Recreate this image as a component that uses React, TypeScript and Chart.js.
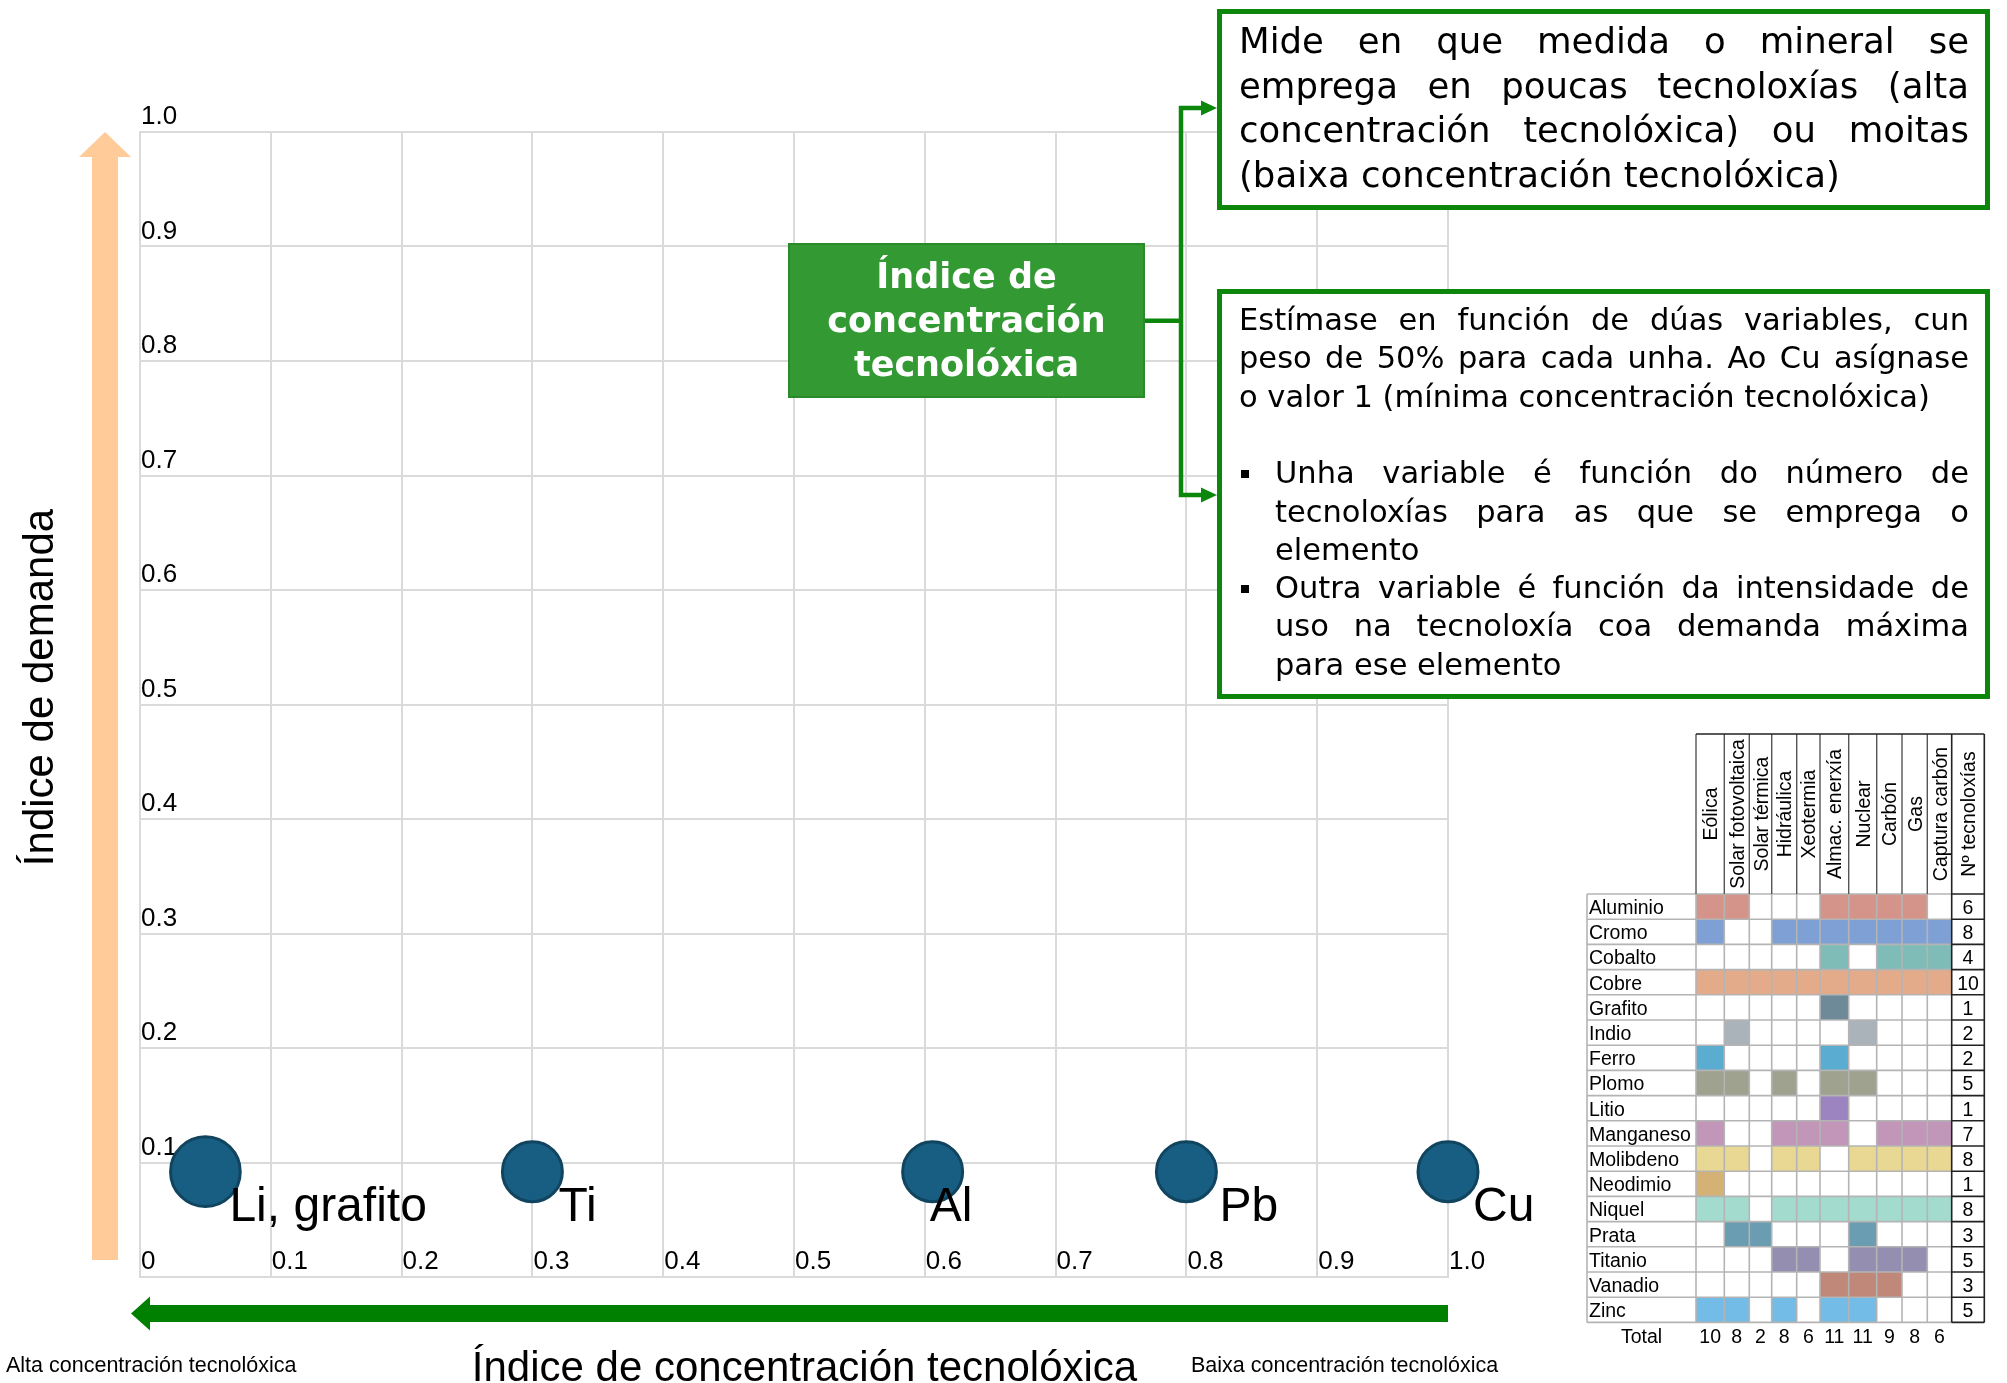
import React, { useEffect, useRef } from 'react';
import { Chart, registerables } from 'chart.js';

Chart.register(...registerables);

// ---- Bubble chart data ----
const ELEMENT_LABELS = ['Li, grafito', 'Ti', 'Al', 'Pb', 'Cu'];
const CONCENTRATION_INDEX = [0.05, 0.3, 0.606, 0.8, 1.0];
const DEMAND_INDEX = [0.092, 0.092, 0.092, 0.092, 0.092];
const BUBBLE_WEIGHT = [1.35, 1, 1, 1, 1];

const X_TICK_LABELS = ['0', '0.1', '0.2', '0.3', '0.4', '0.5', '0.6', '0.7', '0.8', '0.9', '1.0'];
const Y_TICK_LABELS = ['', '0.1', '0.2', '0.3', '0.4', '0.5', '0.6', '0.7', '0.8', '0.9', '1.0'];

// ---- Technology / mineral table data ----
const TECHNOLOGIES = [
  'Eólica', 'Solar fotovoltaica', 'Solar térmica', 'Hidráulica', 'Xeotermia',
  'Almac. enerxía', 'Nuclear', 'Carbón', 'Gas', 'Captura carbón',
];
const COUNT_HEADER = 'Nº tecnoloxías';
const MINERALS = [
  'Aluminio', 'Cromo', 'Cobalto', 'Cobre', 'Grafito', 'Indio', 'Ferro', 'Plomo', 'Litio',
  'Manganeso', 'Molibdeno', 'Neodimio', 'Niquel', 'Prata', 'Titanio', 'Vanadio', 'Zinc',
];
// one flag per technology column, in TECHNOLOGIES order
const USAGE = [
  '1100011110', '1001111111', '0000010111', '1111111111', '0000010000', '0100001000',
  '1000010000', '1101011000', '0000010000', '1001110111', '1101101111', '1000000000',
  '1101111111', '0110001000', '0001101110', '0000011100', '1101011000',
];
const TECH_COUNT = [6, 8, 4, 10, 1, 2, 2, 5, 1, 7, 8, 1, 8, 3, 5, 3, 5];
const TECH_TOTALS = [10, 8, 2, 8, 6, 11, 11, 9, 8, 6];

// ---- Styles ----
const MINERAL_COLORS = [
  '#D5948A', '#7FA0D4', '#80BCB7', '#E3AB8A', '#6E8A99', '#AAB2BA', '#5AADD0', '#9EA28F', '#9C84C0',
  '#C196B9', '#E8D893', '#D4B276', '#A3DBCE', '#6A9CB2', '#948FB0', '#C08878', '#73BCE8',
];
const FONT_ARIAL = '"Liberation Sans", Arial, sans-serif';
const FONT_BOX = '"DejaVu Sans", sans-serif';
const GRID = '#DADADA';
const GREEN_LINE = '#0C870C';
const BUBBLE_FILL = '#185E82';
const BUBBLE_EDGE = '#10445F';
const BASE_RADIUS = 30;
const LABEL_SHIFT = [24, 26, -3, 33, 25];
const LABEL_DROP = 49;

// table geometry
const COL_EDGES = [1587, 1696, 1724.3, 1749.3, 1771.7, 1796.7, 1820, 1848.7, 1876.7, 1902, 1927.3, 1951.7, 1984.3];
const HEAD_TOP = 734;
const ROW_TOP = 894;
const ROW_H = 25.2;
const TABLE_FONT = 19.5;

const elementLabels = {
  id: 'elementLabels',
  afterDatasetsDraw(chart: any) {
    const meta = chart.getDatasetMeta(0);
    const ctx = chart.ctx;
    ctx.save();
    ctx.font = `48px ${FONT_ARIAL}`;
    ctx.fillStyle = '#000';
    ctx.textBaseline = 'alphabetic';
    ctx.textAlign = 'left';
    meta.data.forEach((pt: any, i: number) => {
      ctx.fillText(ELEMENT_LABELS[i], pt.x + LABEL_SHIFT[i], pt.y + LABEL_DROP);
    });
    ctx.restore();
  },
};

type BoxLine = { text: string; justify: boolean; bullet?: boolean };

const BOX1_LINES: BoxLine[] = [
  { text: 'Mide en que medida o mineral se', justify: true },
  { text: 'emprega en poucas tecnoloxías (alta', justify: true },
  { text: 'concentración tecnolóxica) ou moitas', justify: true },
  { text: '(baixa concentración tecnolóxica)', justify: false },
];

const BOX2_LINES: (BoxLine | null)[] = [
  { text: 'Estímase en función de dúas variables, cun', justify: true },
  { text: 'peso de 50% para cada unha. Ao Cu asígnase', justify: true },
  { text: 'o valor 1 (mínima concentración tecnolóxica)', justify: false },
  null,
  { text: 'Unha variable é función do número de', justify: true, bullet: true },
  { text: 'tecnoloxías para as que se emprega o', justify: true },
  { text: 'elemento', justify: false },
  { text: 'Outra variable é función da intensidade de', justify: true, bullet: true },
  { text: 'uso na tecnoloxía coa demanda máxima', justify: true },
  { text: 'para ese elemento', justify: false },
];

const TITLE_LINES = ['Índice de', 'concentración', 'tecnolóxica'];

function lineStyle(left: number, top: number, width: number, size: number, lh: number, justify: boolean): React.CSSProperties {
  return {
    position: 'absolute',
    left,
    top,
    width,
    height: lh,
    fontFamily: FONT_BOX,
    fontSize: size,
    lineHeight: `${lh}px`,
    textAlign: justify ? 'justify' : 'left',
    textAlignLast: justify ? 'justify' : 'left',
    color: '#000',
  } as React.CSSProperties;
}

function Table() {
  const els: React.ReactNode[] = [];
  const rowBottom = ROW_TOP + MINERALS.length * ROW_H;
  const bodyStroke = '#B4B4B4';
  const headStroke = '#555555';
  const dark = '#222222';

  MINERALS.forEach((m, r) => {
    const y = ROW_TOP + r * ROW_H;
    for (let c = 0; c < TECHNOLOGIES.length; c++) {
      if (USAGE[r][c] === '1') {
        els.push(
          <rect key={`f${r}-${c}`} x={COL_EDGES[c + 1]} y={y}
            width={COL_EDGES[c + 2] - COL_EDGES[c + 1]} height={ROW_H} fill={MINERAL_COLORS[r]} />
        );
      }
    }
  });

  for (let i = 0; i <= MINERALS.length; i++) {
    const y = ROW_TOP + i * ROW_H;
    els.push(<line key={`h${i}`} x1={COL_EDGES[0]} x2={COL_EDGES[11]} y1={y} y2={y} stroke={bodyStroke} strokeWidth={1.6} />);
    els.push(<line key={`hd${i}`} x1={COL_EDGES[11]} x2={COL_EDGES[12]} y1={y} y2={y} stroke={dark} strokeWidth={1.6} />);
  }
  for (let c = 0; c < 11; c++) {
    els.push(<line key={`v${c}`} x1={COL_EDGES[c]} x2={COL_EDGES[c]} y1={ROW_TOP} y2={rowBottom} stroke={bodyStroke} strokeWidth={1.6} />);
  }
  for (let c = 11; c < 13; c++) {
    els.push(<line key={`vd${c}`} x1={COL_EDGES[c]} x2={COL_EDGES[c]} y1={HEAD_TOP} y2={rowBottom} stroke={dark} strokeWidth={1.6} />);
  }
  for (let c = 1; c < 11; c++) {
    els.push(<line key={`vh${c}`} x1={COL_EDGES[c]} x2={COL_EDGES[c]} y1={HEAD_TOP} y2={ROW_TOP} stroke={headStroke} strokeWidth={1.4} />);
  }
  els.push(<line key="top" x1={COL_EDGES[1]} x2={COL_EDGES[12]} y1={HEAD_TOP} y2={HEAD_TOP} stroke={dark} strokeWidth={1.6} />);

  const headers = [...TECHNOLOGIES, COUNT_HEADER];
  const headMid = (HEAD_TOP + ROW_TOP) / 2;
  headers.forEach((h, i) => {
    const cx = (COL_EDGES[i + 1] + COL_EDGES[i + 2]) / 2;
    els.push(
      <text key={`ht${i}`} transform={`translate(${cx + 7} ${headMid}) rotate(-90)`} textAnchor="middle"
        fontFamily={FONT_ARIAL} fontSize={TABLE_FONT} fill="#000">{h}</text>
    );
  });

  MINERALS.forEach((m, r) => {
    const base = ROW_TOP + r * ROW_H + 20;
    els.push(<text key={`rl${r}`} x={COL_EDGES[0] + 2} y={base} fontFamily={FONT_ARIAL} fontSize={TABLE_FONT} fill="#000">{m}</text>);
    els.push(
      <text key={`rc${r}`} x={(COL_EDGES[11] + COL_EDGES[12]) / 2} y={base} textAnchor="middle"
        fontFamily={FONT_ARIAL} fontSize={TABLE_FONT} fill="#000">{TECH_COUNT[r]}</text>
    );
  });

  const totalBase = rowBottom + 20.3;
  els.push(
    <text key="total" x={(COL_EDGES[0] + COL_EDGES[1]) / 2} y={totalBase} textAnchor="middle"
      fontFamily={FONT_ARIAL} fontSize={TABLE_FONT} fill="#000">Total</text>
  );
  TECH_TOTALS.forEach((t, c) => {
    els.push(
      <text key={`tt${c}`} x={(COL_EDGES[c + 1] + COL_EDGES[c + 2]) / 2} y={totalBase} textAnchor="middle"
        fontFamily={FONT_ARIAL} fontSize={TABLE_FONT} fill="#000">{t}</text>
    );
  });
  return <g>{els}</g>;
}

export default function App() {
  const canvasRef = useRef<HTMLCanvasElement | null>(null);

  useEffect(() => {
    if (!canvasRef.current) return;
    const tickFont = { family: FONT_ARIAL, size: 26 };
    const chart = new Chart(canvasRef.current, {
      type: 'bubble',
      data: {
        datasets: [
          {
            data: ELEMENT_LABELS.map((_, i) => ({
              x: CONCENTRATION_INDEX[i],
              y: DEMAND_INDEX[i],
              r: BASE_RADIUS * Math.sqrt(BUBBLE_WEIGHT[i]),
            })),
            backgroundColor: BUBBLE_FILL,
            borderColor: BUBBLE_EDGE,
            borderWidth: 3,
            clip: false as any,
          },
        ],
      },
      options: {
        animation: false,
        responsive: false,
        devicePixelRatio: 1,
        events: [],
        layout: { padding: { left: 140, top: 132, right: 2007 - 1448, bottom: 1383 - 1277 } },
        plugins: { legend: { display: false }, tooltip: { enabled: false } },
        scales: {
          x: {
            type: 'linear',
            position: 'bottom',
            min: 0,
            max: 1,
            afterFit: (s: any) => { s.height = 0; },
            grid: { color: GRID, lineWidth: 2, drawTicks: false },
            border: { color: GRID, width: 2 },
            ticks: {
              stepSize: 0.1,
              mirror: true,
              padding: 0,
              align: 'start',
              labelOffset: 1,
              autoSkip: false,
              maxRotation: 0,
              color: '#000',
              font: tickFont,
              callback: (_v: any, i: number) => X_TICK_LABELS[i],
            },
          },
          y: {
            type: 'linear',
            position: 'left',
            min: 0,
            max: 1,
            afterFit: (s: any) => { s.width = 0; },
            grid: { color: GRID, lineWidth: 2, drawTicks: false },
            border: { color: GRID, width: 2 },
            ticks: {
              stepSize: 0.1,
              mirror: true,
              padding: 1,
              labelOffset: -15,
              autoSkip: false,
              color: '#000',
              font: tickFont,
              callback: (_v: any, i: number) => Y_TICK_LABELS[i],
            },
          },
        },
      } as any,
      plugins: [elementLabels],
    });
    return () => chart.destroy();
  }, []);

  return (
    <div style={{ position: 'absolute', left: 0, top: 0, width: 2007, height: 1383, background: '#fff', overflow: 'hidden' }}>
      <canvas ref={canvasRef} width={2007} height={1383} style={{ position: 'absolute', left: 0, top: 0 }} />

      <svg width={2007} height={1383} style={{ position: 'absolute', left: 0, top: 0 }}>
        {/* demand direction arrow */}
        <polygon points="92,1260 92,157 79,157 105,132 131,157 118,157 118,1260" fill="#FFCB99" />
        {/* concentration direction arrow */}
        <polygon points="1448,1305 150,1305 150,1296.5 131,1313.5 150,1330.5 150,1322 1448,1322" fill="#008000" />

        <text transform="translate(53.3 687.5) rotate(-90)" textAnchor="middle" fontFamily={FONT_ARIAL} fontSize={42} fill="#000">
          Índice de demanda
        </text>
        <text x={804.5} y={1381} textAnchor="middle" fontFamily={FONT_ARIAL} fontSize={42} fill="#000">
          Índice de concentración tecnolóxica
        </text>
        <text x={6} y={1372} fontFamily={FONT_ARIAL} fontSize={21.5} fill="#000">Alta concentración tecnolóxica</text>
        <text x={1191} y={1372} fontFamily={FONT_ARIAL} fontSize={21.5} fill="#000">Baixa concentración tecnolóxica</text>

        {/* connectors from the title box to the two notes */}
        <polyline points="1204,108 1181,108 1181,495 1204,495" fill="none" stroke={GREEN_LINE} strokeWidth={4.5} />
        <line x1={1145} y1={320.7} x2={1181} y2={320.7} stroke={GREEN_LINE} strokeWidth={4.5} />
        <polygon points="1201,100.5 1217,108 1201,115.5" fill={GREEN_LINE} />
        <polygon points="1201,487.5 1217,495 1201,502.5" fill={GREEN_LINE} />

        <Table />
      </svg>

      {/* title box */}
      <div style={{ position: 'absolute', left: 788, top: 243, width: 357, height: 155, background: '#339933', border: '2px solid #2A8A2A', boxSizing: 'border-box' }} />
      {TITLE_LINES.map((t, i) => (
        <div key={`t${i}`} style={{
          position: 'absolute', left: 788, top: 254 + i * 44, width: 357, height: 44,
          textAlign: 'center', color: '#fff', fontFamily: FONT_BOX, fontWeight: 'bold', fontSize: 35, lineHeight: '44px',
        }}>{t}</div>
      ))}

      {/* note 1 */}
      <div style={{ position: 'absolute', left: 1217, top: 9, width: 773, height: 201, background: '#fff', border: `5px solid ${GREEN_LINE}`, boxSizing: 'border-box' }} />
      {BOX1_LINES.map((ln, i) => (
        <div key={`b1${i}`} style={lineStyle(1239, 19 + i * 44.5, 730, 35.5, 44.5, ln.justify)}>{ln.text}</div>
      ))}

      {/* note 2 */}
      <div style={{ position: 'absolute', left: 1217, top: 289, width: 773, height: 410, background: '#fff', border: `5px solid ${GREEN_LINE}`, boxSizing: 'border-box' }} />
      {BOX2_LINES.map((ln, i) => {
        if (!ln) return null;
        const top = 301 + i * 38.3;
        const indented = i >= 4;
        const left = indented ? 1275 : 1239;
        const width = 1969 - left;
        return (
          <React.Fragment key={`b2${i}`}>
            {ln.bullet && (
              <div style={{ position: 'absolute', left: 1241, top: top + 15.5, width: 8, height: 8, background: '#000' }} />
            )}
            <div style={lineStyle(left, top, width, 30.5, 38.3, ln.justify)}>{ln.text}</div>
          </React.Fragment>
        );
      })}
    </div>
  );
}
